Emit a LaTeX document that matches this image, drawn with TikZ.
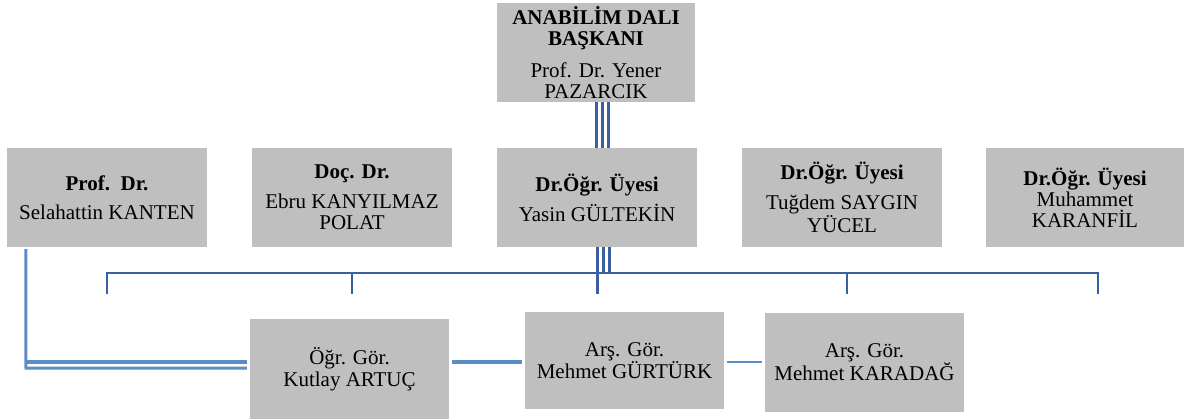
\documentclass[tikz,border=0pt]{standalone}
\usepackage{fontspec}
\setmainfont{Liberation Serif}
\definecolor{boxgray}{HTML}{BFBFBF}
\definecolor{darkblue}{HTML}{3B5FA3}
\definecolor{lightblue}{HTML}{5A8CC6}
\begin{document}
\begin{tikzpicture}[x=1pt,y=-1pt,
  box/.style={fill=boxgray, inner sep=0pt, align=center, text=black,
    font=\fontsize{21}{21}\selectfont, minimum width=200pt, minimum height=99pt},
  bus/.style={draw=darkblue, line width=2.8pt, line join=miter},
  tri/.style={draw=darkblue, line width=3pt},
  lb/.style={draw=lightblue, line join=miter}]
\useasboundingbox (0,0) rectangle (1184,418);
% boxes
\node[box, minimum width=198pt] (head) at (596,52.5)
  {\textbf{ANABİLİM DALI}\\\textbf{BAŞKANI}\\[11pt]Prof. Dr. Yener\\PAZARCIK};
\node[box] (b1) at (107,197.5) {\textbf{Prof.\ \ Dr.}\\[8pt]Selahattin KANTEN};
\node[box] (b2) at (352,197.5) {\textbf{Doç. Dr.}\\[9pt]Ebru KANYILMAZ\\POLAT};
\node[box] (b3) at (597,197.5) {\textbf{Dr.Öğr. Üyesi}\\[7pt]Yasin GÜLTEKİN};
\node[box] (b4) at (842,197.5) {\textbf{Dr.Öğr. Üyesi}\\[9pt]Tuğdem SAYGIN\\YÜCEL};
\node[box, minimum width=198pt] (b5) at (1085,197.5) {\textbf{Dr.Öğr. Üyesi}\\Muhammet\\KARANFİL};
\node[box, minimum width=199pt, minimum height=100pt] (kut) at (349.5,369) {Öğr. Gör.\\[1pt]Kutlay ARTUÇ};
\node[box, minimum width=199pt, minimum height=97pt] (gur) at (624.5,360.5) {Arş. Gör.\\Mehmet GÜRTÜRK};
\node[box, minimum width=199pt] (kar) at (864.5,362.5) {Arş. Gör.\\Mehmet KARADAĞ};
% head to b3: triple line
\foreach \dx in {0,6,12}
  \draw[tri] ([xshift=\dx pt]head.south) -- ([xshift=\dx pt]head.south |- b3.north);
% b3 to bus: triple line
\coordinate (busL) at (107,273);
\coordinate (busR) at (1098,273);
\foreach \dx in {6,12}
  \draw[tri] ([xshift=\dx pt]b3.south) -- ([xshift=\dx pt]b3.south |- busL);
\draw[tri] (b3.south) -- ([yshift=-21pt]b3.south |- busL);
% bus with drops
\draw[bus] ([yshift=-21pt]busL) -- (busL) -- (busR) -- ([yshift=-21pt]busR);
\foreach \xx in {352,847}
  \draw[bus] (\xx,273) -- (\xx,294);
% left connector to Kutlay (double line)
\coordinate (lc) at (26,368);
\coordinate (lt) at (26,362);
\draw[lb, line width=3pt] ([xshift=19pt,yshift=-2pt]b1.south west) -- (lc) -- ([xshift=-3pt]kut.west |- lc);
\draw[lb, line width=4.8pt] ([xshift=-1.5pt]lt) -- ([xshift=-3pt]kut.west |- lt);
% bottom row connectors
\draw[lb, line width=4.8pt] ([xshift=3pt,yshift=-1.5pt]kut.east |- gur.west) -- ([xshift=-3pt,yshift=-1.5pt]gur.west);
\draw[lb, line width=2.8pt] ([xshift=3pt,yshift=-1.5pt]gur.east) -- ([xshift=-3pt,yshift=-1.5pt]gur.east -| kar.west);
\end{tikzpicture}
\end{document}
